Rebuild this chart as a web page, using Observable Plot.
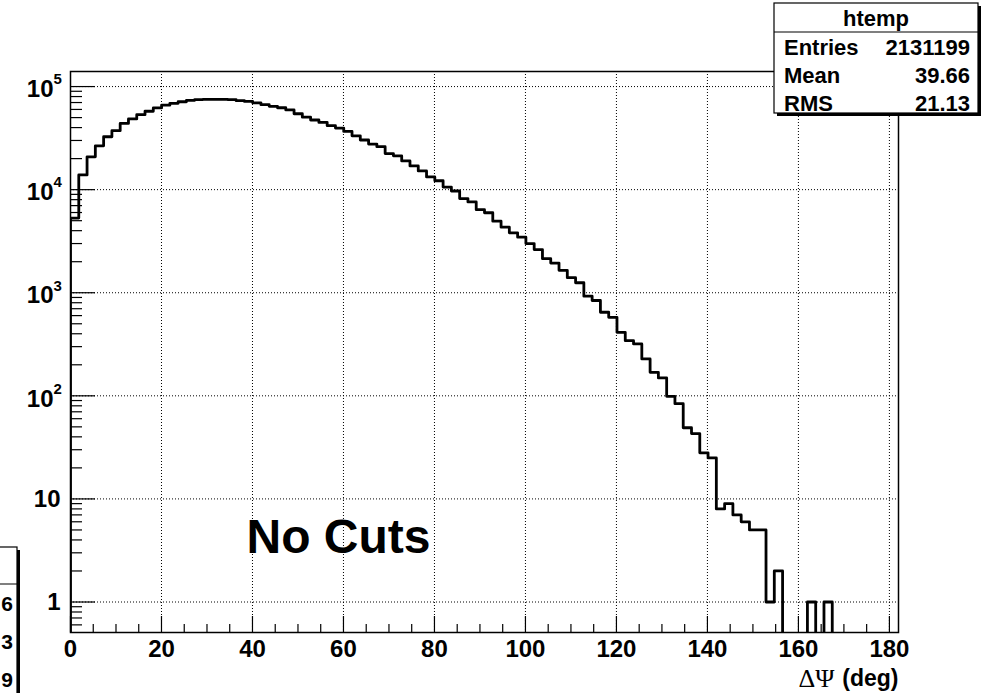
<!DOCTYPE html>
<html>
<head>
<meta charset="utf-8">
<script src="https://cdn.jsdelivr.net/npm/d3@7"></script>
<script src="https://cdn.jsdelivr.net/npm/@observablehq/plot@0.6"></script>
<style>
  html, body { margin: 0; padding: 0; background: #ffffff; }
  #chart svg { display: block; }
</style>
</head>
<body>
<div id="chart"></div>
<script>
// ---- Histogram definition (ROOT "htemp") ----
const xMin = 0;
const xMax = 182;
const nBins = 100;
const counts = [
  5300, 13900, 20800, 26600, 32600, 37300, 43900, 48500, 53400, 57600,
  62000, 66000, 68800, 71200, 73500, 74800, 75200, 75200, 75000, 74600,
  73000, 71800, 69600, 66800, 64300, 62300, 59300, 54500, 50500, 47400,
  44900, 41700, 39600, 36700, 33300, 30300, 27700, 26100, 22400, 21300,
  19000, 17000, 15200, 13300, 12200, 10600, 9700, 8200, 7600, 6400,
  5970, 4950, 4330, 3810, 3460, 3000, 2620, 2140, 1940, 1650,
  1400, 1250, 927, 841, 647, 578, 413, 343, 319, 228,
  169, 149, 99, 84, 49, 43, 28, 25, 8, 9,
  7, 6, 5, 5, 1, 2, 0, 0, 0, 1,
  0, 1, 0, 0, 0, 0, 0, 0, 0, 0
];
const yDomain = [0.506, 1.40e5];

// ---- Axis ticks / labels ----
const xMajorTicks = [0, 20, 40, 60, 80, 100, 120, 140, 160, 180];
const xMinorStep = 5;
const yDecades = [1, 10, 100, 1000, 10000, 100000];
const yPlainLabels = [{v: 1, base: "1"}, {v: 10, base: "10"}];
const yExpLabels = [
  {v: 100, base: "10", exp: "2"},
  {v: 1000, base: "10", exp: "3"},
  {v: 10000, base: "10", exp: "4"},
  {v: 100000, base: "10", exp: "5"}
];
const xTitleSymbol = "\u0394\u03A8";
const xTitleUnit = "(deg)";
const annotation = "No Cuts";

// ---- Stats boxes ----
const statsTitle = "htemp";
const statsNames = ["Entries", "Mean", "RMS"];
const statsValues = ["2131199", "39.66", "21.13"];
const leftBoxDigits = ["6", "3", "9"];

// ---- Layout ----
const W = 982, H = 693;
const mL = 70, mR = 84, mT = 71, mB = 61;
const frameW = W - mL - mR, frameH = H - mT - mB;
const FONT = "'Liberation Sans', Arial, Helvetica, sans-serif";

// derived structures
const edges = d3.range(nBins + 1).map(i => xMin + i * (xMax - xMin) / nBins);
const floorVal = 1e-4; // empty bins drop to the frame bottom (clipped)
const stepData = [{x: edges[0], y: floorVal}]
  .concat(counts.map((c, i) => ({x: edges[i], y: c > 0 ? c : floorVal})))
  .concat([{x: edges[nBins], y: counts[nBins - 1] > 0 ? counts[nBins - 1] : floorVal}]);

const xMinorTicks = d3.range(xMin, xMax + 1e-9, xMinorStep).filter(v => !xMajorTicks.includes(v));
const yMinorTicks = [];
for (const d of [0.1, ...yDecades]) {
  for (let k = 2; k <= 9; k++) {
    const v = d * k;
    if (v > yDomain[0] && v < yDomain[1]) yMinorTicks.push(v);
  }
}
const xGrid = xMajorTicks.filter(v => v > xMin);

const chart = Plot.plot({
  width: W,
  height: H,
  marginLeft: mL, marginRight: mR, marginTop: mT, marginBottom: mB,
  style: {fontFamily: FONT, background: "#ffffff", color: "black", overflow: "hidden"},
  x: {domain: [xMin, xMax], axis: null},
  y: {type: "log", domain: yDomain, axis: null},
  marks: [
    // dotted grid
    Plot.ruleX(xGrid, {x: d => d, stroke: "black", strokeWidth: 1, strokeDasharray: "1,2"}),
    Plot.ruleY(yDecades, {y: d => d, stroke: "black", strokeWidth: 1, strokeDasharray: "1,2"}),
    // ticks (inward, ROOT style)
    Plot.tickY(yDecades, {y: d => d, insetRight: frameW - 25, stroke: "black", strokeWidth: 1.2}),
    Plot.tickY(yMinorTicks, {y: d => d, insetRight: frameW - 12, stroke: "black", strokeWidth: 1.2}),
    Plot.tickX(xMajorTicks, {x: d => d, insetTop: frameH - 16, stroke: "black", strokeWidth: 1.2}),
    Plot.tickX(xMinorTicks, {x: d => d, insetTop: frameH - 8, stroke: "black", strokeWidth: 1.2}),
    // histogram outline
    Plot.line(stepData, {x: "x", y: "y", curve: "step-after", stroke: "black", strokeWidth: 2.8, clip: true}),
    // frame
    Plot.frame({stroke: "black", strokeWidth: 1.5}),
    // x tick labels
    Plot.text(xMajorTicks, {x: d => d, text: d => String(d), frameAnchor: "bottom", dy: 7, lineAnchor: "top",
      fontSize: 24, fontWeight: "bold", fill: "black"}),
    // y tick labels
    Plot.text(yPlainLabels, {y: "v", text: "base", frameAnchor: "left", textAnchor: "end", dx: -10,
      lineAnchor: "middle", fontSize: 24, fontWeight: "bold", fill: "black"}),
    Plot.text(yExpLabels, {y: "v", text: "base", frameAnchor: "left", textAnchor: "end", dx: -17, dy: 3,
      lineAnchor: "middle", fontSize: 24, fontWeight: "bold", fill: "black"}),
    Plot.text(yExpLabels, {y: "v", text: "exp", frameAnchor: "left", textAnchor: "start", dx: -17, dy: -7,
      lineAnchor: "middle", fontSize: 15, fontWeight: "bold", fill: "black"}),
    // x axis title
    Plot.text([xTitleUnit], {text: d => d, frameAnchor: "bottom-right", textAnchor: "end", lineAnchor: "middle",
      dy: 46, fontSize: 23, fontWeight: "bold", fill: "black"}),
    Plot.text([xTitleSymbol], {text: d => d, frameAnchor: "bottom-right", textAnchor: "end", lineAnchor: "middle",
      dx: -64, dy: 46, fontSize: 26, fontFamily: "'Liberation Serif', 'Times New Roman', serif", fill: "black"}),
    // annotation
    Plot.text([annotation], {text: d => d, frameAnchor: "bottom-left", textAnchor: "start", lineAnchor: "middle",
      dx: 176, dy: -95, fontSize: 48, fontWeight: "bold", fill: "black"})
  ]
});

document.getElementById("chart").appendChild(chart);

// ---- Stats box (top right) ----
const svg = d3.select(chart);
const sb = {x0: 774, y0: 3, x1: 978, y1: 113, sep: 32};
const g = svg.append("g").attr("font-family", FONT).attr("text-anchor", "start");
g.append("rect").attr("x", sb.x0 + 3).attr("y", sb.y0 + 3).attr("width", sb.x1 - sb.x0).attr("height", sb.y1 - sb.y0).attr("fill", "black");
g.append("rect").attr("x", sb.x0).attr("y", sb.y0).attr("width", sb.x1 - sb.x0).attr("height", sb.y1 - sb.y0)
  .attr("fill", "white").attr("stroke", "black").attr("stroke-width", 1.2);
g.append("line").attr("x1", sb.x0).attr("x2", sb.x1).attr("y1", sb.sep).attr("y2", sb.sep).attr("stroke", "black").attr("stroke-width", 1.2);
g.append("text").attr("x", (sb.x0 + sb.x1) / 2).attr("y", 19).attr("dy", "0.32em").attr("text-anchor", "middle")
  .attr("font-size", 22).attr("font-weight", "bold").attr("fill", "black").text(statsTitle);
const rowY = [47.5, 75.5, 103];
statsNames.forEach((n, i) => {
  g.append("text").attr("x", sb.x0 + 10).attr("y", rowY[i]).attr("dy", "0.35em").attr("text-anchor", "start")
    .attr("font-size", 22).attr("font-weight", "bold").attr("fill", "black").text(n);
  g.append("text").attr("x", sb.x1 - 8).attr("y", rowY[i]).attr("dy", "0.35em").attr("text-anchor", "end")
    .attr("font-size", 22).attr("font-weight", "bold").attr("fill", "black").text(statsValues[i]);
});

// ---- Partially visible stats box (bottom left) ----
const lb = {x0: -20, x1: 17, y0: 547, y1: 720, sep: 584};
const g2 = svg.append("g").attr("font-family", FONT);
g2.append("rect").attr("x", lb.x0 + 3).attr("y", lb.y0 + 3).attr("width", lb.x1 - lb.x0).attr("height", lb.y1 - lb.y0).attr("fill", "black");
g2.append("rect").attr("x", lb.x0).attr("y", lb.y0).attr("width", lb.x1 - lb.x0).attr("height", lb.y1 - lb.y0)
  .attr("fill", "white").attr("stroke", "black").attr("stroke-width", 1.2);
g2.append("line").attr("x1", lb.x0).attr("x2", lb.x1).attr("y1", lb.sep).attr("y2", lb.sep).attr("stroke", "black").attr("stroke-width", 1.2);
const leftRowY = [604, 642, 680];
leftBoxDigits.forEach((t, i) => {
  g2.append("text").attr("x", 13).attr("y", leftRowY[i]).attr("dy", "0.35em").attr("text-anchor", "end")
    .attr("font-size", 21).attr("font-weight", "bold").attr("fill", "black").text(t);
});
</script>
</body>
</html>
